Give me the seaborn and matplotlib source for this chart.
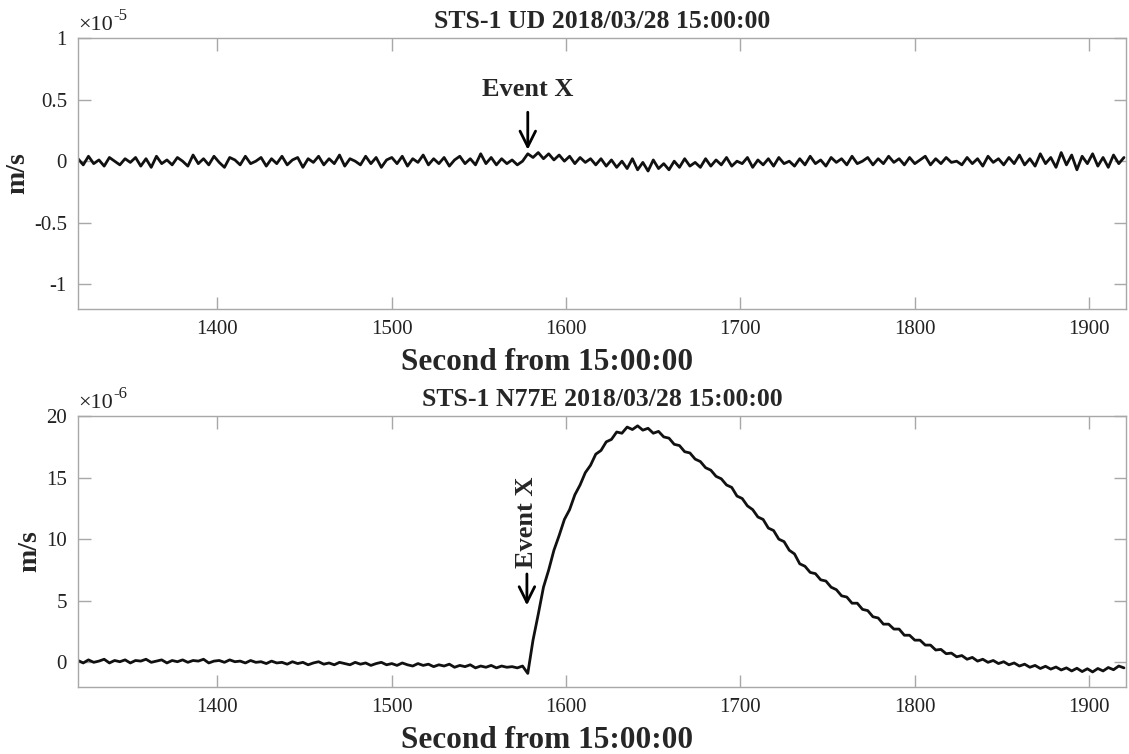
import numpy as np
import matplotlib
matplotlib.use("Agg")
import matplotlib.pyplot as plt
from matplotlib.ticker import FuncFormatter
import seaborn as sns

# sample grid (s from 15:00:00), one value every 3 s
t_start, t_step, n_samples = 1320, 3, 201
event_t = 1578

# UD component, units of 1e-5 m/s
ud_vals = [
    0.02, -0.03, 0.04, -0.02, 0.01, -0.04, 0.03, 0.00, -0.03, 0.02,
    -0.01, 0.03, -0.04, 0.02, -0.05, 0.04, -0.02, 0.01, -0.03, 0.03,
    0.00, -0.04, 0.05, -0.02, 0.02, -0.03, 0.04, -0.01, -0.05, 0.03,
    0.01, -0.03, 0.04, -0.02, 0.00, 0.03, -0.04, 0.02, -0.02, 0.04,
    -0.03, 0.01, 0.03, -0.05, 0.02, -0.01, 0.04, -0.03, 0.02, -0.02,
    0.05, -0.04, 0.02, 0.00, -0.03, 0.04, -0.02, 0.03, -0.05, 0.01,
    0.03, -0.02, 0.04, -0.04, 0.02, -0.01, 0.05, -0.03, 0.02, -0.02,
    0.03, -0.04, 0.01, 0.04, -0.02, 0.02, -0.03, 0.06, -0.02, 0.03,
    -0.03, 0.02, -0.02, 0.01, -0.03, 0.00,
    0.06, 0.03, 0.07, 0.02,
    0.06, 0.01, 0.05, 0.00, 0.04, -0.02, 0.03, -0.01, 0.02, -0.03,
    0.02, -0.04, 0.01, -0.05, 0.00, -0.06, 0.02, -0.07, -0.01, -0.08,
    0.01, -0.06, -0.02, -0.07, 0.00, -0.05, 0.02, -0.04, -0.01, -0.05,
    0.02, -0.04, 0.01, -0.03, 0.03, -0.04, 0.00, -0.02, 0.03, -0.05,
    0.01, -0.03, 0.02, -0.04, 0.03, -0.02, 0.00, -0.04, 0.02, -0.03,
    0.04, -0.02, 0.01, -0.04, 0.03, -0.01, 0.02, -0.03, 0.04, -0.02,
    0.00, 0.03, -0.03, 0.02, -0.02, 0.04, -0.01, 0.02, -0.03, 0.03,
    -0.02, 0.01, 0.04, -0.03, 0.02, -0.02, 0.03, -0.01, 0.00, -0.03,
    0.03, -0.02, 0.02, -0.04, 0.04, -0.01, 0.02, -0.03, 0.03, -0.02,
    0.05, -0.03, 0.02, -0.04, 0.06, -0.02, 0.03, -0.05, 0.07, -0.03,
    0.05, -0.07, 0.04, -0.02, 0.06, -0.04, 0.03, -0.05, 0.05, -0.02, 0.03,
]

# N77E component, units of 1e-6 m/s
ne_vals = [
    0.15, -0.05, 0.2, 0.0, 0.1, 0.25, -0.05, 0.15, 0.05, 0.2,
    -0.05, 0.15, 0.1, 0.25, 0.0, 0.1, 0.2, -0.05, 0.15, 0.05,
    0.2, 0.0, 0.15, 0.1, 0.25, -0.05, 0.1, 0.15, 0.0, 0.2,
    0.05, 0.1, -0.05, 0.15, 0.0, 0.05, -0.1, 0.1, -0.05, 0.0,
    -0.15, 0.05, -0.1, 0.0, -0.2, -0.05, 0.05, -0.15, -0.05, -0.2,
    0.0, -0.1, -0.2, 0.0, -0.15, -0.05, -0.25, -0.1, 0.0, -0.2,
    -0.1, -0.25, -0.05, -0.2, -0.3, -0.1, -0.25, -0.15, -0.35, -0.2,
    -0.3, -0.15, -0.4, -0.25, -0.35, -0.2, -0.45, -0.3, -0.4, -0.25,
    -0.45, -0.3, -0.4, -0.35, -0.45, -0.3,
    -0.9, 1.8, 3.9, 6.1,
    7.5, 9.1, 10.3, 11.6, 12.4, 13.6, 14.4, 15.4, 16.0, 16.9,
    17.2, 17.9, 18.1, 18.7, 18.6, 19.1, 18.9, 19.2, 18.85, 19.0,
    18.6, 18.75, 18.3, 18.2, 17.7, 17.6, 17.1, 17.0, 16.5, 16.3,
    15.8, 15.6, 15.1, 14.9, 14.4, 14.2, 13.5, 13.3, 12.7, 12.4,
    11.8, 11.6, 10.9, 10.7, 10.0, 9.8, 9.1, 8.8, 8.0, 7.8,
    7.3, 7.2, 6.7, 6.6, 6.1, 5.9, 5.4, 5.3, 4.8, 4.8,
    4.3, 4.2, 3.7, 3.6, 3.1, 3.1, 2.7, 2.7, 2.2, 2.2,
    1.8, 1.8, 1.4, 1.4, 1.0, 1.05, 0.7, 0.75, 0.45, 0.55,
    0.25, 0.4, 0.1, 0.25, 0.0, 0.15, -0.1, 0.05, -0.2, -0.05,
    -0.3, -0.15, -0.4, -0.25, -0.5, -0.32, -0.55, -0.38, -0.62, -0.45,
    -0.7, -0.48, -0.75, -0.52, -0.78, -0.5, -0.7, -0.42, -0.6, -0.3, -0.45,
]

ud_title = "STS-1 UD 2018/03/28 15:00:00"
ne_title = "STS-1 N77E 2018/03/28 15:00:00"
x_label = "Second from 15:00:00"
y_label = "m/s"
x_ticks = [1400, 1500, 1600, 1700, 1800, 1900]
ud_yticks = [-1, -0.5, 0, 0.5, 1]
ne_yticks = [0, 5, 10, 15, 20]

t = t_start + t_step * np.arange(n_samples)

sns.set_style("ticks")
plt.rcParams["font.family"] = ["Liberation Serif", "DejaVu Serif"]
plt.rcParams["axes.unicode_minus"] = False

edge = "#a8a8a8"
fig = plt.figure(figsize=(11.29, 7.54), dpi=100)
ax_top = fig.add_axes([0.0691, 0.5902, 0.928, 0.3594])
ax_bot = fig.add_axes([0.0691, 0.0889, 0.928, 0.3594])

panels = [
    (ax_top, ud_vals, ud_title, ud_yticks, (-1.2, 1.0), "-5", -0.046),
    (ax_bot, ne_vals, ne_title, ne_yticks, (-2, 20), "-6", -0.034),
]
for ax, vals, title, yticks, ylim, expo, ylab_x in panels:
    sns.lineplot(x=t, y=vals, ax=ax, color="#111111", linewidth=2.0,
                 estimator=None)
    ax.set_xlim(1320, 1921)
    ax.set_ylim(*ylim)
    ax.set_xticks(x_ticks)
    ax.set_yticks(yticks)
    ax.yaxis.set_major_formatter(FuncFormatter(lambda v, p: f"{v:g}"))
    ax.tick_params(direction="in", length=9, width=1, color=edge,
                   labelsize=15, labelcolor="#222222", top=True, right=True,
                   pad=8)
    for sp in ax.spines.values():
        sp.set_visible(True)
        sp.set_color(edge)
        sp.set_linewidth(1)
    ax.set_title(title, fontsize=18.5, fontweight="bold", pad=7)
    ax.set_xlabel(x_label, fontsize=22.5, fontweight="bold")
    ax.set_ylabel(y_label, fontsize=20, fontweight="bold")
    ax.xaxis.set_label_coords(0.4475, -0.145)
    ax.yaxis.set_label_coords(ylab_x, 0.5)
    # MATLAB style exponent above the y axis
    ax.text(0.0, 1.012, "\u00d710", transform=ax.transAxes, fontsize=16,
            ha="left", va="bottom", color="#222222")
    ax.text(0.034, 1.05, expo, transform=ax.transAxes, fontsize=12,
            ha="left", va="bottom", color="#222222")

# event markers
ax_top.annotate("", xy=(event_t, 0.07), xytext=(event_t, 0.42),
                arrowprops=dict(arrowstyle="->", lw=2, color="black",
                                mutation_scale=28))
ax_top.text(event_t, 0.58, "Event X", ha="center", va="center",
            fontsize=19, fontweight="bold")
ax_bot.annotate("", xy=(event_t - 0.5, 4.4), xytext=(event_t - 0.5, 7.4),
                arrowprops=dict(arrowstyle="->", lw=2, color="black",
                                mutation_scale=28))
ax_bot.text(event_t - 0.5, 11.4, "Event X", rotation=90, ha="center",
            va="center", fontsize=19, fontweight="bold")

fig.savefig("out.png", dpi=100)
